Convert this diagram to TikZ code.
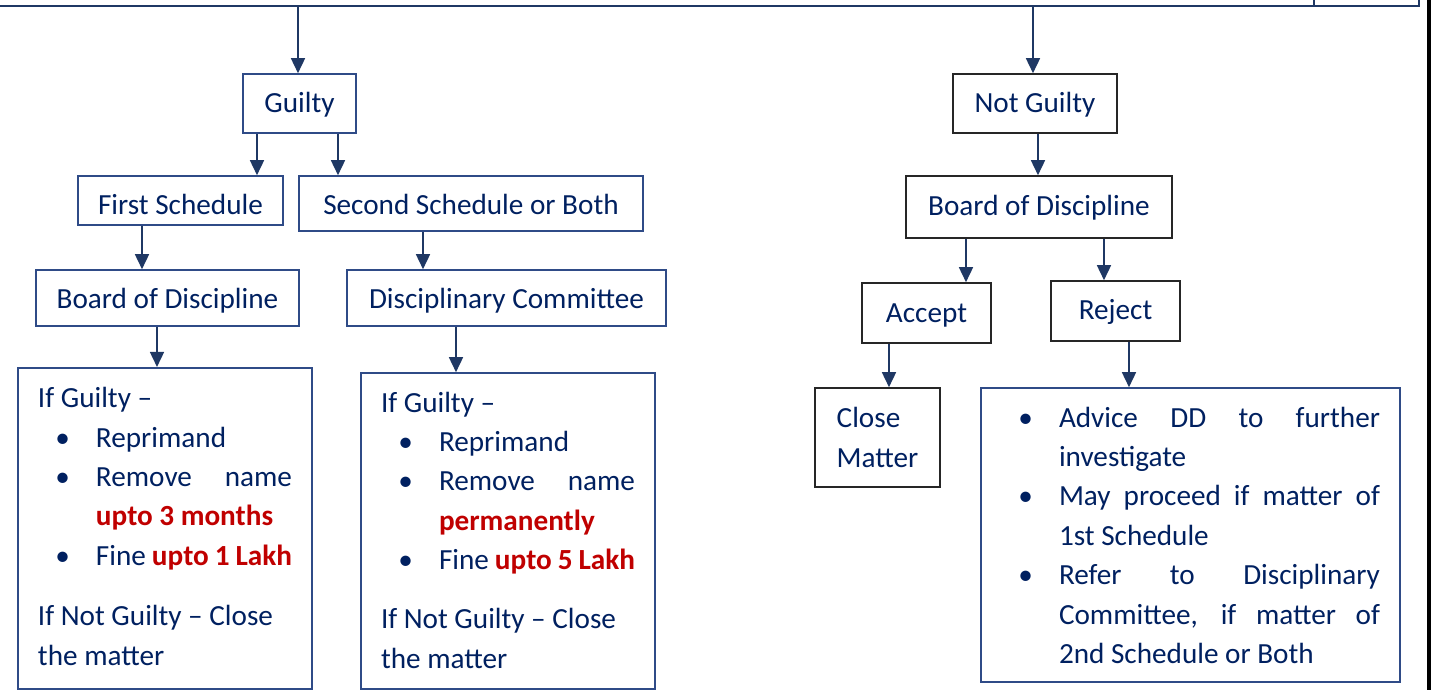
\documentclass[tikz,border=0pt]{standalone}
\usepackage{fontspec}
\setmainfont{Carlito}
\usepackage{enumitem}
\usetikzlibrary{arrows.meta}
\definecolor{txt}{HTML}{002060}
\definecolor{edge}{HTML}{2F4B87}
\definecolor{conn}{HTML}{1F3864}
\definecolor{hired}{HTML}{C00000}
\newcommand{\redb}[1]{\textcolor{hired}{\textbf{#1}}}
\newcommand{\notetext}[3]{\parbox[c][#1][t]{#2}{\tolerance=10000\hyphenpenalty=10000 #3}}
\setlist[itemize]{label=\textbullet, leftmargin=29pt, labelsep=13pt, itemsep=0pt, topsep=0pt, parsep=0pt, partopsep=0pt}

\tikzset{
  frame/.style={draw=edge, line width=0.8pt, text=txt, inner sep=0pt, font=\fontsize{14.6}{19.7}\selectfont},
  box/.style={frame, text height=11pt, text depth=2pt},
  bbox/.style={box, draw=black!85},
  arr/.style={draw=conn, line width=0.8pt, -{Triangle[width=7pt,length=7.5pt]}}
}

\begin{document}
\begin{tikzpicture}[x=0.5pt, y=-0.5pt]
\useasboundingbox (0,0) rectangle (1432,690);

% top box, cut off by the page
\node[frame, draw=conn, line width=1.3pt, minimum width=714.5pt, minimum height=43pt] (case) at (704.5,-37) {};
\draw[conn, line width=0.8pt] (1314,0 |- case.north) -- (1314,0 |- case.south);
\draw[black, line width=2pt] (1429,0) -- (1429,690);

% guilty side
\node[box, minimum width=56.5pt, minimum height=29.5pt] (guilty) at (299.5,103.5) {Guilty};
\node[box, text height=14.5pt, text depth=1pt, minimum width=102.5pt, minimum height=24.5pt] (first) at (180.5,200.5) {First Schedule};
\node[box, text height=12.5pt, minimum width=172pt, minimum height=27.5pt] (second) at (471,203.5) {Second Schedule or Both};
\node[box, text height=12pt, minimum width=131.5pt, minimum height=28pt] (bodl) at (167.5,298) {Board of Discipline};
\node[box, text height=12pt, minimum width=159.5pt, minimum height=28pt] (dc) at (506.5,298) {Disciplinary Committee};

\node[frame, minimum width=147pt, minimum height=160.5pt] (penl) at (165,528.25) {\notetext{160.5pt}{127pt}{\rule{0pt}{20pt}If Guilty –
\begin{itemize}
\item Reprimand
\item Remove name\linebreak \redb{upto 3 months}
\item Fine~\redb{upto~1~Lakh}
\end{itemize}
\vspace{10.5pt}
If Not Guilty – Close\\ the matter}};

\node[frame, minimum width=147pt, minimum height=158pt] (penm) at (508,531) {\notetext{158pt}{127pt}{\rule{0pt}{19.5pt}If Guilty –
\begin{itemize}
\item Reprimand
\item Remove name\linebreak \redb{permanently}
\item Fine~\redb{upto~5~Lakh}
\end{itemize}
\vspace{10pt}
If Not Guilty – Close\\ the matter}};

% not guilty side
\node[bbox, minimum width=82pt, minimum height=29.5pt] (notg) at (1035,103.5) {Not Guilty};
\node[bbox, minimum width=133pt, minimum height=31pt] (bodr) at (1039,207) {Board of Discipline};
\node[bbox, minimum width=64.5pt, minimum height=30pt] (accept) at (926.5,313) {Accept};
\node[bbox, minimum width=64.5pt, minimum height=30pt] (reject) at (1115.5,311) {Reject};
\node[frame, draw=black!85, align=left, minimum width=62.5pt, minimum height=49.5pt] (close) at (877.5,437.5) {Close\\Matter};

\node[frame, minimum width=209.5pt, minimum height=147pt] (rejnote) at (1190.5,535) {\notetext{147pt}{189.5pt}{%
\begin{itemize}
\item \rule{0pt}{19.5pt}Advice DD to further\linebreak investigate
\item May proceed if matter of\linebreak 1st Schedule
\item Refer to Disciplinary\linebreak Committee, if matter of\linebreak 2nd Schedule or Both
\end{itemize}}};

% connectors
\foreach \x/\a/\b in {298/case/guilty, 257/guilty/first, 338/guilty/second, 142/first/bodl, 423/second/dc, 157/bodl/penl, 456/dc/penm, 1033/case/notg, 1038/notg/bodr, 966/bodr/accept, 1104/bodr/reject, 889/accept/close, 1129/reject/rejnote}
  \draw[arr] (\x,0 |- \a.south) -- (\x,0 |- \b.north);
\end{tikzpicture}
\end{document}
